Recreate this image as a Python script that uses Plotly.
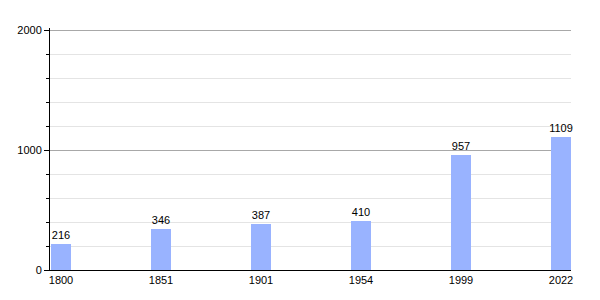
import plotly.graph_objects as go

years = ["1800", "1851", "1901", "1954", "1999", "2022"]
population = [216, 346, 387, 410, 957, 1109]
positions = list(range(len(years)))

FONT = "Liberation Sans, Arial, sans-serif"

fig = go.Figure()
fig.add_trace(go.Bar(
    x=positions, y=population, width=0.2,
    marker=dict(color="#99b3ff", line=dict(width=0)),
    text=[str(v) for v in population], textposition="outside",
    textfont=dict(family=FONT, size=11, color="#000"),
    cliponaxis=False,
))

fig.update_layout(
    width=600, height=300,
    margin=dict(l=50, r=29, t=28, b=30),
    plot_bgcolor="white", paper_bgcolor="white",
    showlegend=False,
    bargap=0,
    uniformtext=dict(minsize=11, mode="show"),
    font=dict(family=FONT, size=11, color="#000"),
    xaxis=dict(
        range=[-0.11, 5.10], tickvals=positions, ticktext=years,
        tickfont=dict(family=FONT, size=11, color="#000"),
        showgrid=False, zeroline=False, showline=True, linecolor="#000", linewidth=1,
        ticks="", ticklen=0, fixedrange=True,
    ),
    yaxis=dict(
        range=[0, 2020], tickvals=[0, 1000, 2000],
        tickfont=dict(family=FONT, size=11, color="#000"),
        showgrid=True, gridcolor="#a8a8a8", gridwidth=1,
        zeroline=False, showline=True, linecolor="#000", linewidth=1,
        ticks="outside", ticklen=5, tickcolor="#000",
        minor=dict(dtick=200, showgrid=True, gridcolor="#e4e4e4", gridwidth=1,
                   ticks="outside", ticklen=3, tickcolor="#000"),
    ),
)

fig.write_html("out.html")
